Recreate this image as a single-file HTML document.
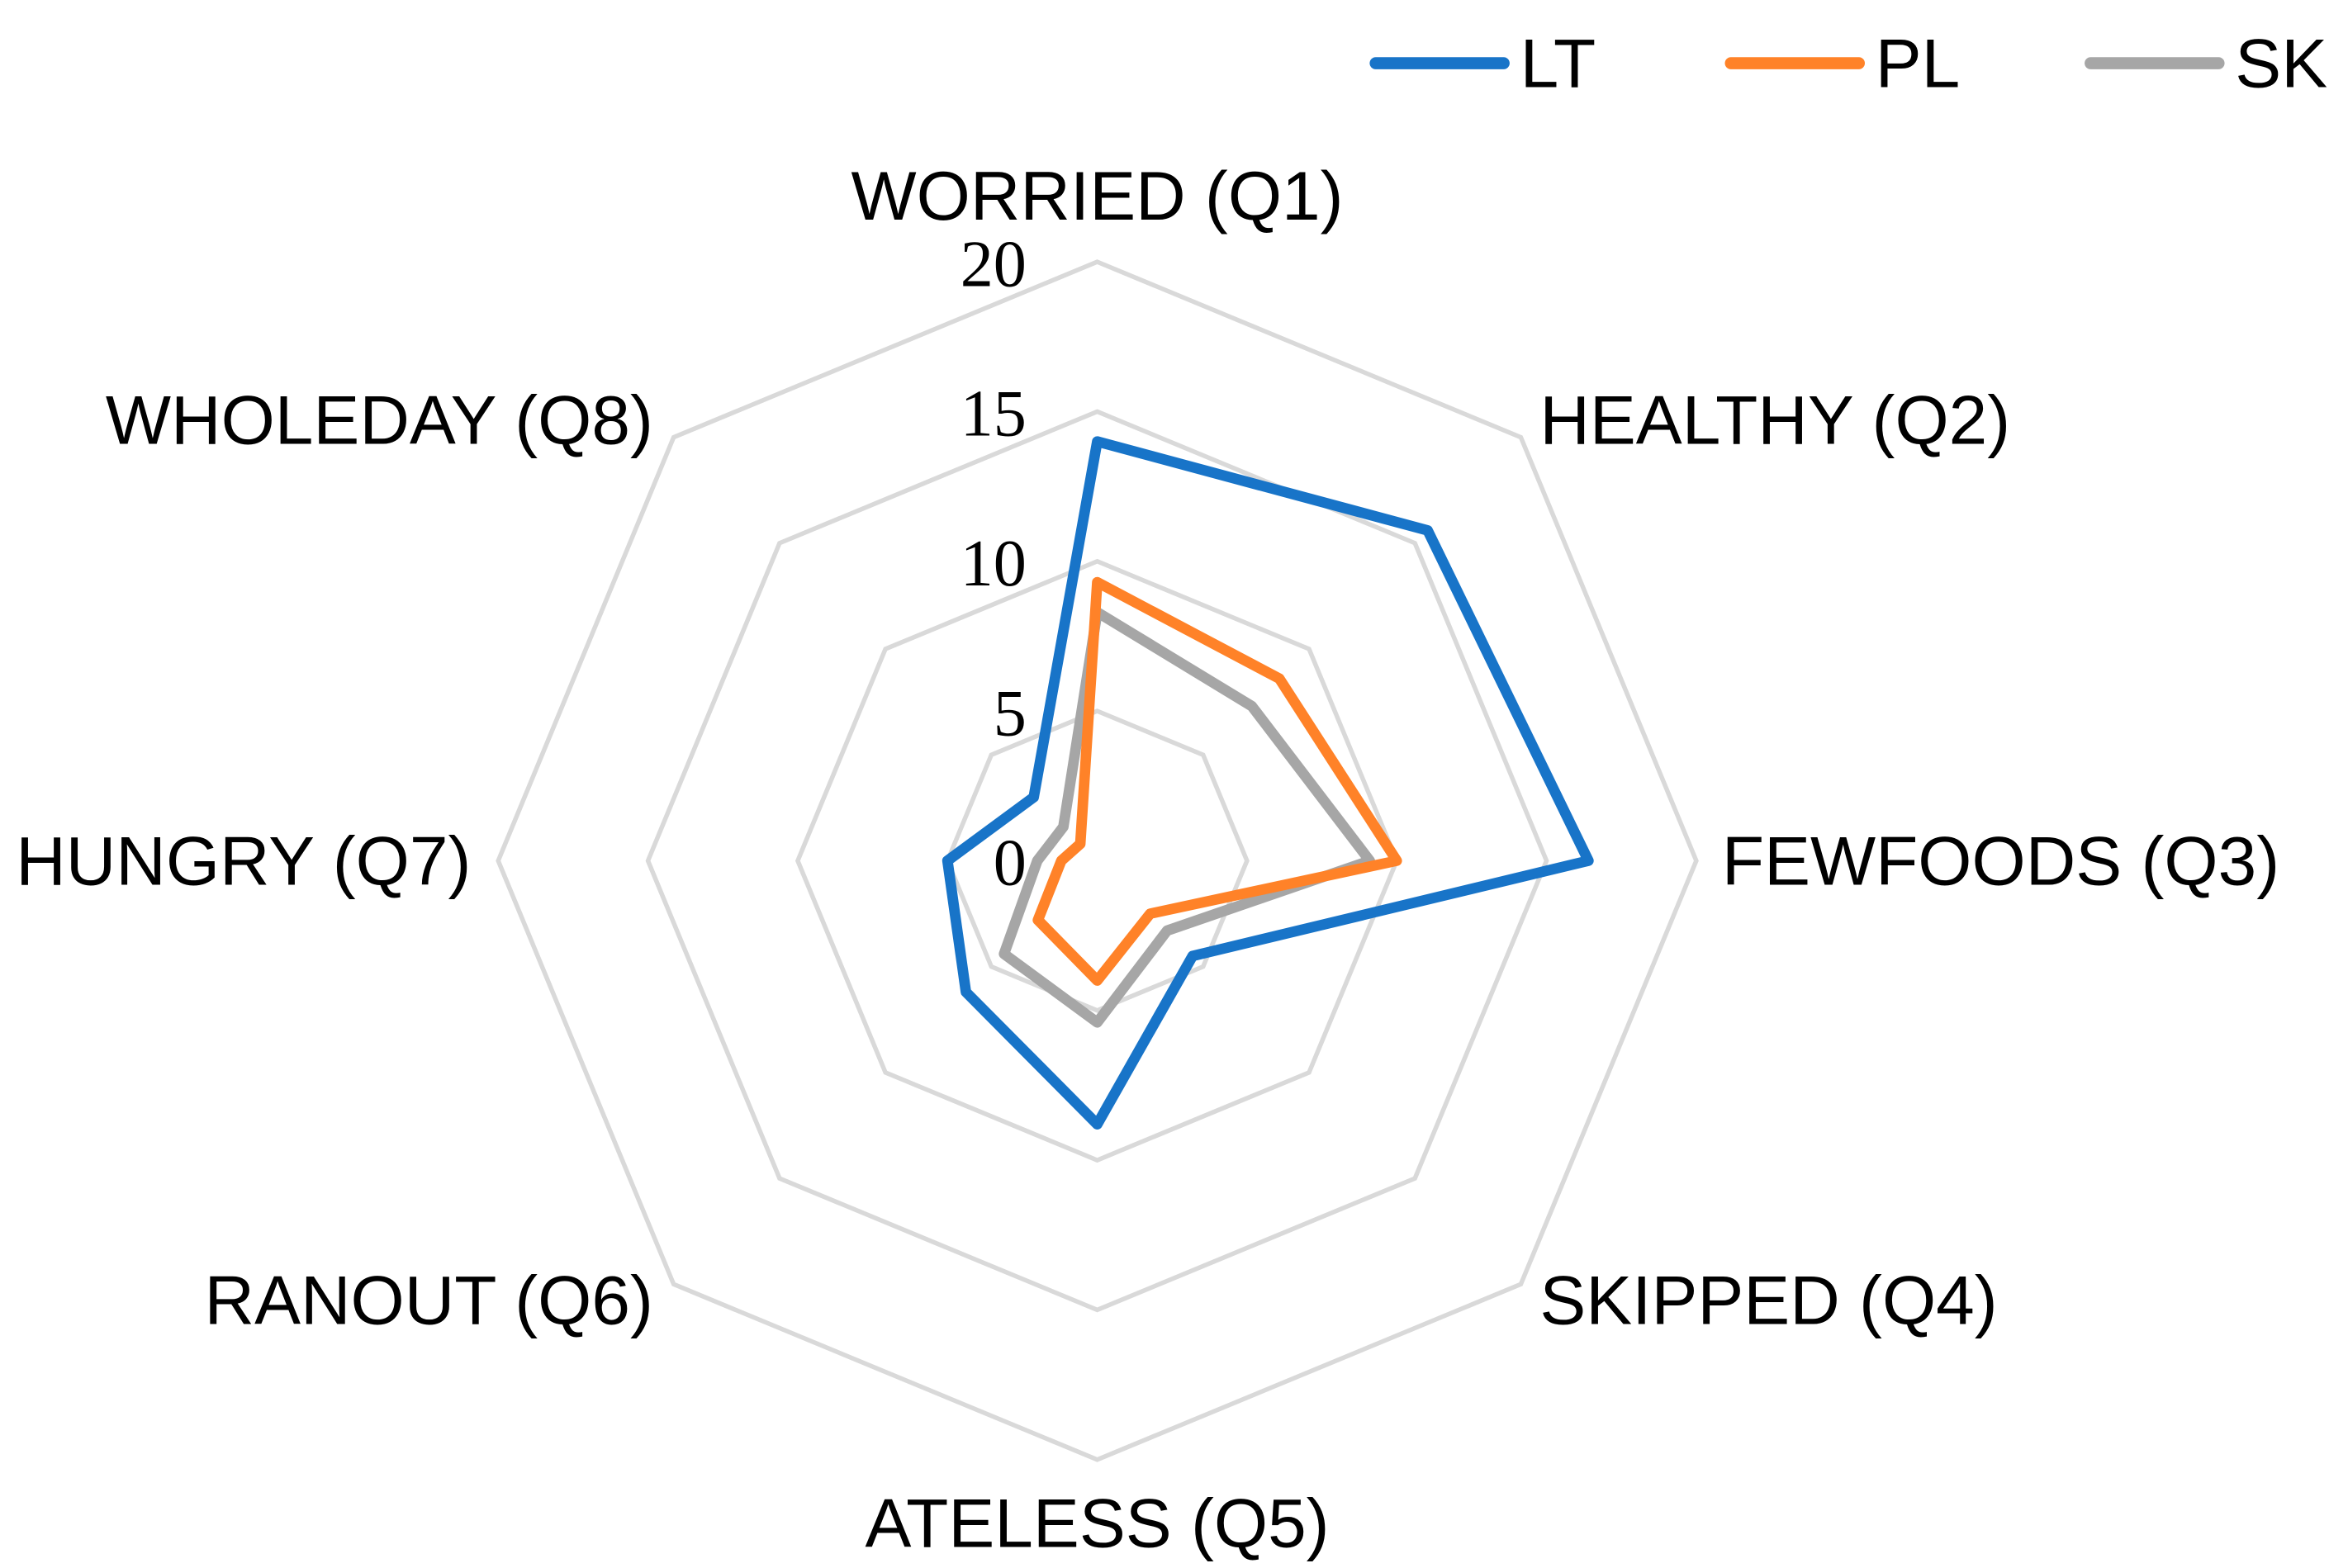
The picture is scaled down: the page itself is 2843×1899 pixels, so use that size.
<!DOCTYPE html>
<html><head><meta charset="utf-8"><style>
html,body{margin:0;padding:0;background:#fff;}
svg{display:block;}
</style></head><body>
<svg id="chart" width="2843" height="1899" viewBox="0 0 1560 1042" xmlns="http://www.w3.org/2000/svg">
<g id="grid"></g>
<g id="series"></g>
<g id="labels" font-family="Liberation Sans, Arial, sans-serif" font-size="46" fill="#000"></g>
<g id="ticks" font-family="Liberation Serif, serif" font-size="44" fill="#000" text-anchor="end"></g>
<g id="legend" font-family="Liberation Sans, Arial, sans-serif" font-size="46" fill="#000">
  <g><line x1="914" y1="42" x2="999" y2="42" stroke="#1874C8" stroke-width="8" stroke-linecap="round"/><text x="1010" y="58">LT</text></g>
  <g><line x1="1150" y1="42" x2="1235" y2="42" stroke="#FF8228" stroke-width="8" stroke-linecap="round"/><text x="1246" y="58">PL</text></g>
  <g><line x1="1389" y1="42" x2="1474" y2="42" stroke="#A6A6A6" stroke-width="8" stroke-linecap="round"/><text x="1485" y="58">SK</text></g>
</g>
</svg>
<script>
const categories = ["WORRIED (Q1)","HEALTHY (Q2)","FEWFOODS (Q3)","SKIPPED (Q4)","ATELESS (Q5)","RANOUT (Q6)","HUNGRY (Q7)","WHOLEDAY (Q8)"];
const seriesLT = [14.0,15.6,16.4,4.5,8.8,6.2,5.0,3.0];
const seriesPL = [9.3,8.6,10.0,2.5,4.0,2.8,1.2,0.8];
const seriesSK = [8.3,7.3,9.1,3.3,5.4,4.4,2.0,1.6];
const tickValues = [0,5,10,15,20];
const tickLabels = ["0","5","10","15","20"];

const NS="http://www.w3.org/2000/svg";
const cx=729, cy=572, R=398, maxV=20;
function pt(i,v){const a=-Math.PI/2+i*2*Math.PI/categories.length;const r=v/maxV*R;return [cx+r*Math.cos(a),cy+r*Math.sin(a)];}
const grid=document.getElementById('grid');
tickValues.forEach((t,k)=>{
  if(t===0)return;
  const p=document.createElementNS(NS,'polygon');
  p.setAttribute('points',categories.map((c,i)=>pt(i,t).join(',')).join(' '));
  p.setAttribute('fill','none');p.setAttribute('stroke','#D9D9D9');p.setAttribute('stroke-width','3');
  
  
  grid.appendChild(p);
});
const ticks=document.getElementById('ticks');
tickValues.forEach((t,k)=>{
  const [x,y]=pt(0,t);
  const tx=document.createElementNS(NS,'text');
  tx.setAttribute('x',682);tx.setAttribute('y',y+16);
  tx.textContent=tickLabels[k];
  
  
  ticks.appendChild(tx);
});
const labelPos=[
  {x:729,y:146,a:'middle'},{x:1023,y:295,a:'start'},{x:1144,y:588,a:'start'},{x:1023,y:880,a:'start'},
  {x:729,y:1028,a:'middle'},{x:434,y:880,a:'end'},{x:313,y:588,a:'end'},{x:434,y:295,a:'end'}];
const labels=document.getElementById('labels');
categories.forEach((c,i)=>{
  const tx=document.createElementNS(NS,'text');
  tx.setAttribute('x',labelPos[i].x);tx.setAttribute('y',labelPos[i].y);tx.setAttribute('text-anchor',labelPos[i].a);
  tx.textContent=c;
  
  
  labels.appendChild(tx);
});
const sg=document.getElementById('series');
[[seriesSK,'#A6A6A6','sk'],[seriesPL,'#FF8228','pl'],[seriesLT,'#1874C8','lt']].forEach(([vals,col,n])=>{
  const p=document.createElementNS(NS,'polygon');
  p.setAttribute('points',vals.map((v,i)=>pt(i,v).join(',')).join(' '));
  p.setAttribute('fill','none');p.setAttribute('stroke',col);p.setAttribute('stroke-width','7');p.setAttribute('stroke-linejoin','round');
  
  
  sg.appendChild(p);
});
</script>
</body></html>
